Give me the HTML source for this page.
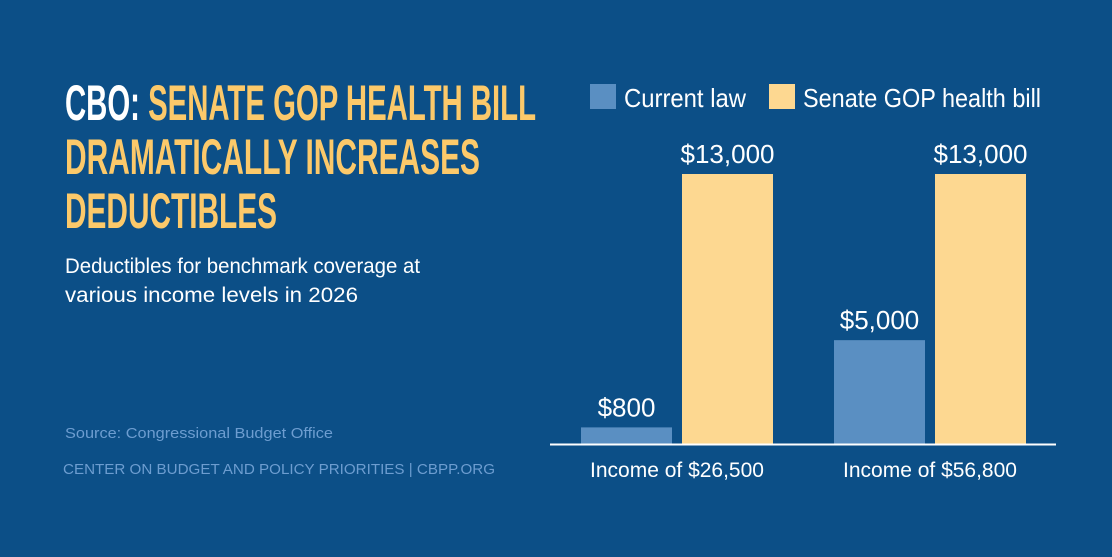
<!DOCTYPE html>
<html><head><meta charset="utf-8"><style>
html,body{margin:0;padding:0;background:#0c4f87;}
svg{display:block}
text{font-family:"Liberation Sans Narrow","Liberation Sans",sans-serif;}
</style></head><body>
<svg id="c" width="1112" height="557" viewBox="0 0 1112 557">
<rect x="0" y="0" width="1112" height="557" fill="#0c4f87"/>
<g font-weight="bold" font-size="50">
<text x="65" y="120" textLength="471" lengthAdjust="spacingAndGlyphs"><tspan fill="#ffffff">CBO: </tspan><tspan fill="#fcc96a">SENATE GOP HEALTH BILL</tspan></text>
<text x="65" y="174" textLength="415" lengthAdjust="spacingAndGlyphs" fill="#fcc96a">DRAMATICALLY INCREASES</text>
<text x="65" y="228" textLength="212" lengthAdjust="spacingAndGlyphs" fill="#fcc96a">DEDUCTIBLES</text>
</g>
<g fill="#ffffff" font-size="21">
<text x="65" y="273" textLength="355" lengthAdjust="spacingAndGlyphs">Deductibles for benchmark coverage at</text>
<text x="65" y="302" textLength="293" lengthAdjust="spacingAndGlyphs">various income levels in 2026</text>
</g>
<text x="65" y="438" font-size="15" fill="#6d9dd0" textLength="268" lengthAdjust="spacingAndGlyphs">Source: Congressional Budget Office</text>
<text x="63" y="474" font-size="15" fill="#6d9dd0" textLength="432" lengthAdjust="spacingAndGlyphs">CENTER ON BUDGET AND POLICY PRIORITIES | CBPP.ORG</text>
<g font-size="26" fill="#ffffff">
<rect x="590" y="84" width="26" height="25" fill="#5a8fc2"/>
<text x="624" y="107" textLength="122" lengthAdjust="spacingAndGlyphs">Current law</text>
<rect x="769" y="84" width="26" height="25" fill="#fdd891"/>
<text x="803" y="107" textLength="238" lengthAdjust="spacingAndGlyphs">Senate GOP health bill</text>
</g>
<g id="bars"></g>
<line x1="550" y1="444.5" x2="1056" y2="444.5" stroke="#ffffff" stroke-width="2"/>
</svg>
<script>
const categories = ["Income of $26,500", "Income of $56,800"];
const currentLaw = [800, 5000];
const senateBill = [13000, 13000];
const valueLabels = [["$800", "$13,000"], ["$5,000", "$13,000"]];
const NS = "http://www.w3.org/2000/svg";
const g = document.getElementById("bars");
const baseY = 444, pxPer = 270 / 13000;
function yScale(v){ return baseY - v * pxPer; }
function groupX(i){ return 581 + i * 253; }
const barW = 91, gap = 10;
const colors = ["#5a8fc2", "#fdd891"];
categories.forEach((cat, i) => {
  [currentLaw[i], senateBill[i]].forEach((v, s) => {
    const x = groupX(i) + s * (barW + gap);
    const r = document.createElementNS(NS, "rect");
    r.setAttribute("x", x); r.setAttribute("y", yScale(v));
    r.setAttribute("width", barW); r.setAttribute("height", baseY - yScale(v));
    r.setAttribute("fill", colors[s]);
    
    
    g.appendChild(r);
    const t = document.createElementNS(NS, "text");
    t.setAttribute("x", x + barW / 2); t.setAttribute("y", yScale(v) - 11);
    t.setAttribute("text-anchor", "middle"); t.setAttribute("fill", "#ffffff");
    t.setAttribute("font-size", "26");
    t.textContent = valueLabels[i][s];
    
    
    g.appendChild(t);
  });
  const c = document.createElementNS(NS, "text");
  c.setAttribute("x", groupX(i) + barW + gap / 2); c.setAttribute("y", 477);
  c.setAttribute("text-anchor", "middle"); c.setAttribute("fill", "#ffffff");
  c.setAttribute("font-size", "21");
  c.textContent = cat;
  
  
  g.appendChild(c);
});
</script>
</body></html>
